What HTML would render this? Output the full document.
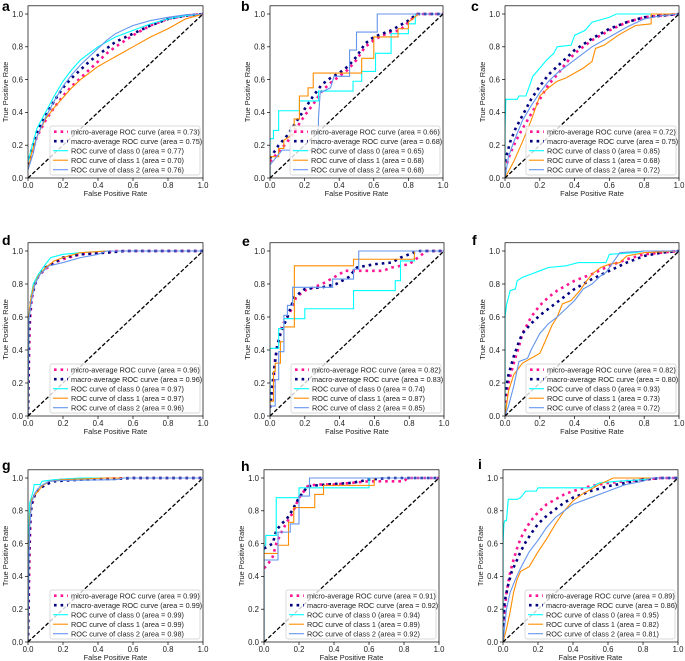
<!DOCTYPE html>
<html><head><meta charset="utf-8"><style>
html,body{margin:0;padding:0;background:#fff;}
svg{display:block;font-family:"Liberation Sans",sans-serif;}
</style></head><body>
<svg id="fig" width="685" height="661" viewBox="0 0 685 661"></svg>
<script>
// ---------- data ----------
const panelLetters = ["a","b","c","d","e","f","g","h","i"];
const seriesNames = ["micro-average ROC curve","macro-average ROC curve","ROC curve of class 0","ROC curve of class 1","ROC curve of class 2"];
const xTicks = [0,0.2,0.4,0.6,0.8,1.0];
const yTicks = [0,0.2,0.4,0.6,0.8,1.0];
const areasA = [0.73,0.75,0.77,0.70,0.76];
const areasB = [0.66,0.68,0.65,0.68,0.68];
const areasC = [0.72,0.75,0.85,0.68,0.72];
const areasD = [0.96,0.96,0.97,0.97,0.96];
const areasE = [0.82,0.83,0.74,0.87,0.85];
const areasF = [0.82,0.80,0.93,0.73,0.72];
const areasG = [0.99,0.99,0.99,0.99,0.98];
const areasH = [0.91,0.92,0.94,0.89,0.92];
const areasI = [0.89,0.86,0.95,0.82,0.81];

const aMicro=[[0,0.08],[0.02,0.15],[0.05,0.25],[0.1,0.35],[0.15,0.43],[0.2,0.5],[0.25,0.56],[0.3,0.61],[0.35,0.66],[0.4,0.71],[0.45,0.76],[0.5,0.8],[0.6,0.87],[0.7,0.93],[0.8,0.97],[0.9,0.99],[1,1]];
const aMacro=[[0,0.08],[0.02,0.17],[0.05,0.28],[0.1,0.38],[0.15,0.47],[0.2,0.55],[0.25,0.61],[0.3,0.66],[0.35,0.71],[0.4,0.75],[0.45,0.79],[0.5,0.83],[0.6,0.88],[0.7,0.93],[0.8,0.97],[0.9,0.99],[1,1]];
const aC0=[[0,0.1],[0.03,0.22],[0.05,0.3],[0.1,0.4],[0.15,0.5],[0.2,0.59],[0.25,0.66],[0.3,0.72],[0.35,0.76],[0.4,0.8],[0.45,0.83],[0.5,0.86],[0.6,0.9],[0.7,0.94],[0.8,0.97],[0.9,0.99],[1,1]];
const aC1=[[0,0.05],[0.02,0.15],[0.05,0.25],[0.1,0.36],[0.15,0.43],[0.2,0.49],[0.25,0.55],[0.3,0.6],[0.35,0.64],[0.4,0.68],[0.45,0.71],[0.5,0.74],[0.55,0.77],[0.6,0.8],[0.7,0.86],[0.8,0.91],[0.9,0.97],[1,1]];
const aC2=[[0,0.05],[0.03,0.15],[0.05,0.25],[0.1,0.37],[0.15,0.47],[0.2,0.56],[0.25,0.63],[0.3,0.69],[0.35,0.74],[0.4,0.79],[0.45,0.84],[0.5,0.88],[0.6,0.93],[0.7,0.96],[0.8,0.98],[0.9,0.995],[1,1]];

const bMicro=[[0,0.1],[0.05,0.16],[0.1,0.22],[0.15,0.3],[0.2,0.38],[0.25,0.45],[0.3,0.53],[0.35,0.58],[0.4,0.62],[0.45,0.66],[0.5,0.72],[0.55,0.8],[0.6,0.84],[0.65,0.87],[0.7,0.89],[0.75,0.9],[0.8,0.95],[0.85,1],[1,1]];
const bMacro=[[0,0.12],[0.05,0.2],[0.1,0.26],[0.15,0.34],[0.2,0.42],[0.25,0.5],[0.3,0.57],[0.35,0.61],[0.4,0.64],[0.45,0.68],[0.5,0.74],[0.55,0.82],[0.6,0.86],[0.7,0.9],[0.8,0.96],[0.85,1],[1,1]];
const bC0=[[0,0],[0,0.24],[0.02,0.24],[0.02,0.29],[0.05,0.29],[0.05,0.41],[0.17,0.41],[0.17,0.47],[0.28,0.47],[0.28,0.53],[0.48,0.53],[0.48,0.59],[0.53,0.59],[0.53,0.65],[0.61,0.65],[0.61,0.76],[0.7,0.76],[0.7,0.88],[0.8,0.88],[0.8,0.94],[0.84,0.94],[0.84,1],[1,1]];
const bC1=[[0,0],[0,0.13],[0.05,0.13],[0.05,0.18],[0.08,0.18],[0.08,0.23],[0.14,0.27],[0.14,0.36],[0.17,0.36],[0.17,0.5],[0.22,0.5],[0.22,0.55],[0.25,0.55],[0.25,0.64],[0.53,0.64],[0.53,0.73],[0.6,0.73],[0.6,0.86],[0.74,0.86],[0.74,0.91],[0.8,0.91],[0.8,0.95],[0.86,1],[1,1]];
const bC2=[[0,0],[0,0.08],[0.07,0.17],[0.28,0.17],[0.28,0.36],[0.29,0.52],[0.35,0.55],[0.37,0.62],[0.46,0.62],[0.46,0.78],[0.5,0.78],[0.5,0.89],[0.62,0.89],[0.62,1],[1,1]];

const cMicro=[[0,0.05],[0.03,0.15],[0.06,0.22],[0.1,0.3],[0.15,0.39],[0.2,0.48],[0.25,0.57],[0.3,0.63],[0.35,0.7],[0.4,0.76],[0.5,0.84],[0.6,0.9],[0.7,0.95],[0.8,0.98],[0.9,0.99],[1,1]];
const cMacro=[[0,0.1],[0.03,0.22],[0.06,0.3],[0.1,0.38],[0.15,0.48],[0.2,0.56],[0.25,0.63],[0.3,0.68],[0.35,0.73],[0.4,0.78],[0.5,0.85],[0.6,0.91],[0.7,0.95],[0.8,0.98],[0.9,0.99],[1,1]];
const cC0=[[0,0],[0,0.3],[0.005,0.48],[0.07,0.48],[0.08,0.5],[0.12,0.5],[0.14,0.56],[0.16,0.62],[0.2,0.67],[0.24,0.72],[0.28,0.76],[0.3,0.8],[0.38,0.81],[0.4,0.87],[0.46,0.9],[0.5,0.95],[0.6,0.98],[0.64,1],[1,1]];
const cC1=[[0,0],[0.05,0.1],[0.1,0.22],[0.15,0.35],[0.2,0.5],[0.25,0.55],[0.3,0.59],[0.35,0.61],[0.45,0.67],[0.5,0.71],[0.52,0.79],[0.57,0.81],[0.65,0.87],[0.75,0.93],[0.84,0.94],[0.84,1],[1,1]];
const cC2=[[0,0],[0.02,0.13],[0.05,0.22],[0.1,0.35],[0.15,0.44],[0.2,0.52],[0.25,0.59],[0.3,0.64],[0.4,0.72],[0.5,0.8],[0.6,0.86],[0.7,0.92],[0.8,0.97],[0.9,0.99],[1,1]];

const dMicro=[[0,0],[0.005,0.3],[0.01,0.55],[0.02,0.7],[0.04,0.8],[0.06,0.85],[0.1,0.89],[0.15,0.93],[0.2,0.95],[0.3,0.98],[0.4,0.99],[0.5,1],[1,1]];
const dMacro=[[0,0],[0.005,0.5],[0.01,0.62],[0.02,0.72],[0.04,0.8],[0.06,0.85],[0.1,0.9],[0.15,0.93],[0.2,0.96],[0.3,0.98],[0.45,0.99],[0.55,1],[1,1]];
const dC0=[[0,0],[0.005,0.6],[0.02,0.74],[0.03,0.8],[0.06,0.86],[0.1,0.92],[0.13,0.96],[0.2,0.98],[0.3,0.99],[0.45,1],[1,1]];
const dC1=[[0,0],[0.005,0.6],[0.015,0.7],[0.03,0.78],[0.06,0.85],[0.1,0.9],[0.15,0.94],[0.2,0.96],[0.3,0.99],[0.45,1],[1,1]];
const dC2=[[0,0],[0.005,0.58],[0.02,0.7],[0.04,0.8],[0.07,0.86],[0.12,0.91],[0.2,0.93],[0.3,0.96],[0.4,0.98],[0.45,1],[1,1]];

const eMicro=[[0,0.05],[0.02,0.2],[0.03,0.35],[0.05,0.45],[0.07,0.55],[0.1,0.6],[0.13,0.66],[0.15,0.72],[0.2,0.76],[0.3,0.8],[0.4,0.86],[0.43,0.88],[0.65,0.88],[0.7,0.9],[0.8,0.92],[0.85,0.96],[0.9,1],[1,1]];
const eMacro=[[0,0.05],[0.02,0.25],[0.04,0.42],[0.06,0.5],[0.1,0.6],[0.14,0.72],[0.2,0.77],[0.3,0.78],[0.38,0.8],[0.45,0.84],[0.5,0.9],[0.6,0.92],[0.7,0.93],[0.75,0.96],[0.8,0.98],[0.85,1],[1,1]];
const eC0=[[0,0],[0,0.41],[0.05,0.41],[0.05,0.53],[0.08,0.53],[0.08,0.59],[0.2,0.59],[0.2,0.65],[0.48,0.65],[0.48,0.76],[0.72,0.76],[0.72,0.82],[0.75,0.82],[0.75,0.94],[0.83,0.94],[0.83,1],[1,1]];
const eC1=[[0,0],[0,0.09],[0.02,0.09],[0.02,0.27],[0.03,0.27],[0.03,0.32],[0.06,0.32],[0.06,0.45],[0.08,0.45],[0.08,0.54],[0.14,0.54],[0.14,0.91],[0.48,0.91],[0.48,0.95],[0.83,0.95],[0.83,1],[1,1]];
const eC2=[[0,0],[0,0.06],[0.03,0.06],[0.03,0.22],[0.05,0.22],[0.05,0.39],[0.08,0.39],[0.08,0.61],[0.1,0.61],[0.1,0.67],[0.13,0.67],[0.13,0.78],[0.36,0.78],[0.36,0.83],[0.48,0.83],[0.48,0.89],[0.51,0.89],[0.51,1],[1,1]];

const fMicro=[[0,0.08],[0.02,0.2],[0.05,0.32],[0.08,0.42],[0.1,0.5],[0.15,0.6],[0.2,0.67],[0.25,0.72],[0.3,0.76],[0.35,0.79],[0.4,0.82],[0.5,0.86],[0.6,0.91],[0.7,0.95],[0.8,0.98],[0.9,0.99],[1,1]];
const fMacro=[[0,0.12],[0.02,0.25],[0.05,0.36],[0.08,0.45],[0.1,0.5],[0.15,0.56],[0.2,0.61],[0.25,0.65],[0.3,0.69],[0.35,0.73],[0.4,0.77],[0.5,0.83],[0.6,0.88],[0.7,0.93],[0.8,0.97],[0.9,0.99],[1,1]];
const fC0=[[0,0],[0,0.6],[0.01,0.68],[0.02,0.72],[0.03,0.76],[0.06,0.77],[0.07,0.82],[0.1,0.84],[0.15,0.86],[0.2,0.88],[0.25,0.9],[0.35,0.91],[0.42,0.93],[0.58,0.93],[0.6,0.98],[0.75,0.99],[0.8,1],[1,1]];
const fC1=[[0,0],[0.02,0.15],[0.05,0.25],[0.1,0.32],[0.15,0.35],[0.2,0.38],[0.23,0.45],[0.27,0.55],[0.3,0.6],[0.33,0.68],[0.38,0.7],[0.43,0.76],[0.47,0.82],[0.5,0.86],[0.55,0.9],[0.6,0.92],[0.66,0.93],[0.7,0.97],[0.8,0.99],[1,1]];
const fC2=[[0,0],[0.02,0.06],[0.05,0.18],[0.08,0.33],[0.13,0.35],[0.15,0.4],[0.2,0.5],[0.25,0.56],[0.3,0.6],[0.35,0.65],[0.4,0.7],[0.45,0.77],[0.5,0.8],[0.55,0.85],[0.58,0.87],[0.6,0.9],[0.66,0.99],[0.8,1],[1,1]];

const gMicro=[[0,0],[0.005,0.3],[0.01,0.6],[0.015,0.75],[0.02,0.83],[0.04,0.9],[0.06,0.93],[0.1,0.96],[0.15,0.985],[0.2,0.99],[0.4,0.995],[0.6,1],[1,1]];
const gMacro=[[0,0],[0.005,0.5],[0.01,0.7],[0.02,0.84],[0.04,0.9],[0.06,0.93],[0.1,0.96],[0.15,0.98],[0.3,0.99],[0.5,0.995],[0.6,1],[1,1]];
const gC0=[[0,0],[0.005,0.7],[0.01,0.85],[0.03,0.92],[0.035,0.96],[0.07,0.96],[0.08,0.98],[0.15,0.99],[0.3,1],[1,1]];
const gC1=[[0,0],[0.005,0.55],[0.01,0.75],[0.02,0.87],[0.05,0.91],[0.08,0.95],[0.12,0.98],[0.2,0.99],[0.45,1],[1,1]];
const gC2=[[0,0],[0.005,0.5],[0.01,0.7],[0.02,0.85],[0.04,0.91],[0.07,0.95],[0.12,0.98],[0.2,0.985],[0.5,0.99],[0.55,1],[1,1]];

const hMicro=[[0,0.45],[0.02,0.47],[0.05,0.52],[0.07,0.6],[0.1,0.67],[0.13,0.73],[0.16,0.78],[0.2,0.88],[0.25,0.95],[0.3,0.96],[0.4,0.96],[0.5,0.97],[0.6,0.98],[0.8,0.98],[0.82,1],[1,1]];
const hMacro=[[0,0.57],[0.05,0.6],[0.07,0.68],[0.1,0.72],[0.13,0.75],[0.16,0.8],[0.2,0.88],[0.25,0.95],[0.35,0.96],[0.5,0.97],[0.6,0.99],[0.7,1],[1,1]];
const hC0=[[0,0],[0,0.59],[0.01,0.59],[0.01,0.65],[0.07,0.65],[0.07,0.88],[0.2,0.88],[0.2,0.94],[0.6,0.94],[0.6,1],[1,1]];
const hC1=[[0,0],[0,0.54],[0.08,0.54],[0.08,0.59],[0.14,0.59],[0.14,0.73],[0.17,0.73],[0.17,0.82],[0.29,0.82],[0.29,0.9],[0.34,0.9],[0.34,0.955],[0.63,0.955],[0.63,1],[1,1]];
const hC2=[[0,0],[0,0.5],[0.08,0.5],[0.08,0.67],[0.15,0.67],[0.15,0.72],[0.2,0.72],[0.2,0.89],[0.26,0.89],[0.26,1],[1,1]];

const iMicro=[[0,0.05],[0.01,0.2],[0.02,0.3],[0.04,0.42],[0.06,0.5],[0.08,0.57],[0.1,0.63],[0.13,0.69],[0.16,0.74],[0.2,0.79],[0.25,0.84],[0.3,0.87],[0.35,0.9],[0.4,0.92],[0.5,0.95],[0.6,0.97],[0.7,0.98],[0.8,0.99],[0.9,1],[1,1]];
const iMacro=[[0,0.1],[0.01,0.25],[0.03,0.35],[0.05,0.43],[0.08,0.5],[0.1,0.55],[0.13,0.61],[0.16,0.66],[0.2,0.72],[0.25,0.77],[0.3,0.81],[0.35,0.85],[0.4,0.88],[0.5,0.92],[0.6,0.95],[0.7,0.97],[0.8,0.99],[0.9,1],[1,1]];
const iC0=[[0,0],[0,0.6],[0.005,0.72],[0.01,0.74],[0.02,0.74],[0.03,0.87],[0.08,0.87],[0.1,0.88],[0.13,0.92],[0.19,0.92],[0.2,0.94],[0.5,0.94],[0.55,0.97],[0.65,0.98],[0.8,0.99],[0.85,1],[1,1]];
const iC1=[[0,0],[0.02,0.08],[0.04,0.18],[0.06,0.3],[0.08,0.38],[0.1,0.43],[0.15,0.46],[0.2,0.55],[0.25,0.63],[0.3,0.72],[0.35,0.8],[0.4,0.86],[0.45,0.9],[0.5,0.93],[0.55,0.96],[0.63,1],[1,1]];
const iC2=[[0,0],[0.02,0.2],[0.04,0.3],[0.07,0.38],[0.1,0.45],[0.15,0.55],[0.2,0.62],[0.25,0.7],[0.3,0.76],[0.35,0.8],[0.4,0.84],[0.5,0.88],[0.6,0.92],[0.7,0.96],[0.8,0.98],[0.85,1],[1,1]];

// ---------- layout (pixel geometry, not data) ----------
const layout = [
 {x0:28,x1:203,y0:178,y1:14,lx:2,ly:11},
 {x0:270,x1:443,y0:178,y1:14,lx:241,ly:11},
 {x0:505,x1:679,y0:178,y1:14,lx:471,ly:11},
 {x0:28,x1:203,y0:416,y1:251,lx:2,ly:245},
 {x0:270,x1:444,y0:416,y1:251,lx:242,ly:246},
 {x0:505,x1:679,y0:416,y1:251,lx:472,ly:245},
 {x0:28,x1:203,y0:642,y1:478,lx:2,ly:470},
 {x0:264,x1:439,y0:642,y1:478,lx:241,ly:471},
 {x0:503,x1:678,y0:642,y1:478,lx:478,ly:469}
];
const panelSeries = [
 [aMicro,aMacro,aC0,aC1,aC2],[bMicro,bMacro,bC0,bC1,bC2],[cMicro,cMacro,cC0,cC1,cC2],
 [dMicro,dMacro,dC0,dC1,dC2],[eMicro,eMacro,eC0,eC1,eC2],[fMicro,fMacro,fC0,fC1,fC2],
 [gMicro,gMacro,gC0,gC1,gC2],[hMicro,hMacro,hC0,hC1,hC2],[iMicro,iMacro,iC0,iC1,iC2]
];
const panelAreas = [areasA,areasB,areasC,areasD,areasE,areasF,areasG,areasH,areasI];
const colors = ["#ff1493","#000080","#00ffff","#ff8c00","#6495ed"];
const seriesKeys = ["micro","macro","class-0","class-1","class-2"];

const NS="http://www.w3.org/2000/svg";
const svg=document.getElementById("fig");
function mk(tag,attrs,parent){const e=document.createElementNS(NS,tag);for(const k in attrs)e.setAttribute(k,attrs[k]);(parent||svg).appendChild(e);return e;}
function styleSeries(el,i){
  el.setAttribute("fill","none");
  el.setAttribute("stroke",colors[i]);
  if(i<2){el.setAttribute("stroke-width","2.6");el.setAttribute("stroke-dasharray","2.6 4");}
  else{el.setAttribute("stroke-width","1.1");}
}

layout.forEach((L,p)=>{
  const letter=panelLetters[p];
  const g=mk("g",{});
  
  
  const yTop=L.y1-0.05*(L.y0-L.y1);
  const sx=v=>L.x0+v*(L.x1-L.x0);
  const sy=v=>L.y0-v*(L.y0-L.y1);
  const clipId="clip"+p;
  const cp=mk("clipPath",{id:clipId},g);
  mk("rect",{x:L.x0,y:yTop,width:L.x1-L.x0,height:L.y0-yTop},cp);
  const plot=mk("g",{"clip-path":"url(#"+clipId+")"},g);
  panelSeries[p].forEach((pts,i)=>{
    const d=pts.map((q,k)=>(k?"L":"M")+sx(q[0]).toFixed(2)+" "+sy(q[1]).toFixed(2)).join("");
    const path=mk("path",{d:d},plot);
    styleSeries(path,i);
    
    
  });
  const diag=mk("line",{x1:sx(0),y1:sy(0),x2:sx(1),y2:sy(1),stroke:"#000","stroke-width":1.3,"stroke-dasharray":"4 2"},plot);
  
  
  const fr=mk("rect",{x:L.x0,y:yTop,width:L.x1-L.x0,height:L.y0-yTop,fill:"none",stroke:"#000","stroke-width":0.7},g);
  
  
  xTicks.forEach(t=>{
    mk("line",{x1:sx(t),x2:sx(t),y1:L.y0,y2:L.y0+3,stroke:"#000","stroke-width":0.7},g);
    const tx=mk("text",{x:sx(t),y:L.y0+10,"font-size":7.8,"text-anchor":"middle",fill:"#222"},g);
    tx.textContent=t.toFixed(1);
    
    
  });
  yTicks.forEach(t=>{
    mk("line",{x1:L.x0-3,x2:L.x0,y1:sy(t),y2:sy(t),stroke:"#000","stroke-width":0.7},g);
    const ty=mk("text",{x:L.x0-5,y:sy(t)+2.8,"font-size":7.8,"text-anchor":"end",fill:"#222"},g);
    ty.textContent=t.toFixed(1);
    
    
  });
  const xl=mk("text",{x:(L.x0+L.x1)/2,y:L.y0+18,"font-size":7.4,"text-anchor":"middle",fill:"#222"},g);
  xl.textContent="False Positive Rate";
  
  
  const ycx=L.x0-20, ycy=(L.y0+yTop)/2;
  const yl=mk("text",{x:ycx,y:ycy,"font-size":7.4,"text-anchor":"middle",fill:"#222",transform:"rotate(-90 "+ycx+" "+ycy+")"},g);
  yl.textContent="True Positive Rate";
  
  
  const pl=mk("text",{x:L.lx,y:L.ly,"font-size":14,"font-weight":"bold",fill:"#000"},g);
  pl.textContent=letter;
  
  
  const lw=150,lh=49;
  const lx=L.x1-3-lw, ly=L.y0-3-lh;
  const lg=mk("g",{},g);
  
  
  mk("rect",{x:lx,y:ly,width:lw,height:lh,rx:2,fill:"#fff","fill-opacity":0.8,stroke:"#ccc","stroke-width":0.7},lg);
  seriesNames.forEach((nm,i)=>{
    const ry=ly+5.7+i*9.5;
    const h=mk("line",{x1:lx+3,x2:lx+18,y1:ry,y2:ry},lg);
    styleSeries(h,i);
    if(i<2){h.setAttribute("x1",lx+4);}
    
    
    const t=mk("text",{x:lx+21,y:ry+2.6,"font-size":7.3,fill:"#222"},lg);
    t.textContent=nm+" (area = "+panelAreas[p][i].toFixed(2)+")";
    
    
  });
});
</script>
</body></html>
